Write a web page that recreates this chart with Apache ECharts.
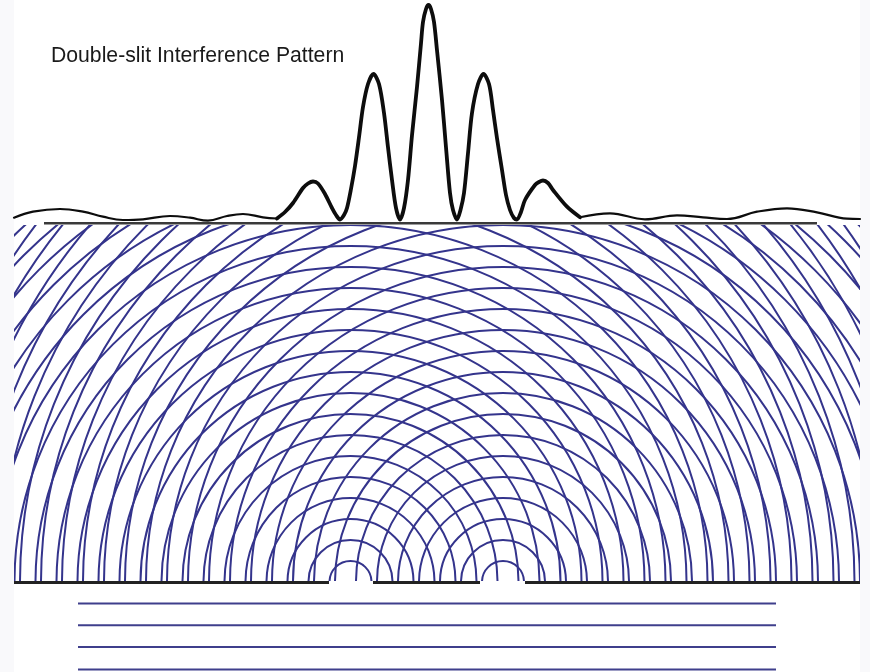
<!DOCTYPE html>
<html>
<head>
<meta charset="utf-8">
<style>html,body{margin:0;padding:0;background:#f9f9fb}#c{width:870px;height:672px}</style>
<script src="https://cdn.jsdelivr.net/npm/echarts@6/dist/echarts.min.js"></script>
</head>
<body>
<div id="c"></div>
<script>
// Positions along the screen are measured from the midpoint between the slits.
var titleText = 'Double-slit Interference Pattern';
var slitCentres = [-76.5, 76];
var waveRadii = [21,42,63,84,105,126,147,168,189,210,231,252,273,294,315,336,357,378,399,420,441,462,483,504,525,546,567,588,609,630];
var intensityTailLeft = [[-413,5.6],[-394,11.6],[-367,14.3],[-344,11.6],[-324,6.6],[-304,3.3],[-284,4],[-257,7.3],[-237,5.6],[-219,2.6],[-200,7.3],[-184,9.3],[-164,6],[-150,4.8]];
var intensityPeaks = [[-150,4.8],[-142,11.3],[-134,20.3],[-124,35.3],[-119,39.8],[-114,41.8],[-109,39.8],[-102,29.3],[-95,15.3],[-91,8.3],[-87,3.8],[-83,8.3],[-80,15.3],[-76,34.3],[-72,57.3],[-68,86],[-64,116.3],[-59,139.3],[-53.5,149.3],[-48,139.3],[-43,110.3],[-39,76],[-35,43.3],[-31,15.3],[-27,3.8],[-23,15.3],[-19,43.3],[-15,88],[-10,136.3],[-6,180],[-4,201.3],[-1,214.3],[1.5,218.3],[4,214.3],[7,201.3],[10,173],[15,123.3],[19,76],[23,30.3],[26,13.3],[30,3.8],[33.5,13.3],[37,30.3],[41,70],[45,110.3],[51,139.3],[56.5,149.3],[62,139.3],[66,113.3],[70,85],[75,53.3],[79,28.3],[83,13.3],[87,5.3],[90,3.8],[94,11.3],[98,23.3],[108,38.3],[112,41.3],[116,42.8],[121,40.3],[126,33.3],[140,16.6],[153,6]];
var intensityTailRight = [[153,6],[183,10],[218,4],[250,8],[276,6],[300,4.3],[330,11.6],[360,15],[390,11],[420,4.6],[433,4.3]];
var screenLine = [[-383,0],[390,0]];
var barrierLeft = [[-413,0],[-98,0]];
var barrierMiddle = [[-54,0],[53,0]];
var barrierRight = [[98,0],[433,0]];
var incomingLevels = [-21,-42.8,-64.5,-87];
var incomingExtent = [-349,349];

var chart = echarts.init(document.getElementById('c'), null, {renderer:'canvas'});

function xAxisFor(i){
  return {gridIndex:i,type:'value',min:-413,max:433,show:false,splitLine:{show:false}};
}
function hline(name, data, grid, color, width, clip){
  return {name:name,type:'line',xAxisIndex:grid,yAxisIndex:grid,data:data,showSymbol:false,silent:true,
    clip:clip!==false,lineStyle:{color:color,width:width,cap:'butt'},z:3};
}
function curve(name, data, width, smooth){
  return {name:name,type:'line',xAxisIndex:0,yAxisIndex:0,data:data,showSymbol:false,silent:true,smooth:smooth,clip:false,
    lineStyle:{color:'#0d0d0d',width:width,join:'round',cap:'round'},z:4};
}
function waves(slit, idx){
  return {
    name:'Wavefronts '+(idx+1),type:'custom',xAxisIndex:1,yAxisIndex:1,clip:true,silent:true,z:2,
    data:waveRadii.map(function(r){return [slit,r];}),
    encode:{x:0,y:1},
    renderItem:function(params,api){
      var c = api.coord([api.value(0),0]);
      var s = api.size([api.value(1),api.value(1)],[api.value(0),0]);
      return {type:'arc',shape:{cx:c[0],cy:c[1],r:s[0],startAngle:Math.PI,endAngle:2*Math.PI,clockwise:true},
        style:{fill:null,stroke:'#34348c',lineWidth:2}};
    }
  };
}

var series = [
  waves(slitCentres[0],0),
  waves(slitCentres[1],1),
  hline('Screen',screenLine,0,'#3a3a3a',2.4,false),
  curve('Tail left',intensityTailLeft,2.2,0.4),
  curve('Peaks',intensityPeaks,3.8,0.3),
  curve('Tail right',intensityTailRight,2.2,0.4),
  hline('Barrier',barrierLeft,2,'#222',3.2),
  hline('Barrier',barrierMiddle,2,'#222',3.2),
  hline('Barrier',barrierRight,2,'#222',3.2)
];
incomingLevels.forEach(function(v,i){
  series.push(hline('Incoming '+(i+1),[[incomingExtent[0],v],[incomingExtent[1],v]],2,'#3f3f8c',2));
});

chart.setOption({
  animation:false,
  backgroundColor:'#f9f9fb',
  title:{text:titleText,left:46,top:41,textStyle:{fontFamily:'Liberation Sans',fontSize:21.2,fontWeight:'normal',color:'#1a1a1a'}},
  tooltip:{show:false},
  legend:{show:false},
  grid:[
    {left:14,width:846,top:0,height:227,show:true,backgroundColor:'#fff',borderWidth:0},
    {left:14,width:846,top:225,height:356,show:true,backgroundColor:'#fff',borderWidth:0},
    {left:14,width:846,top:575,height:97,show:true,backgroundColor:'#fff',borderWidth:0}
  ],
  xAxis:[xAxisFor(0),xAxisFor(1),xAxisFor(2)],
  yAxis:[
    {gridIndex:0,type:'value',min:-3.7,max:223.3,show:false,splitLine:{show:false}},
    {gridIndex:1,type:'value',min:1,max:357,show:false,splitLine:{show:false}},
    {gridIndex:2,type:'value',min:-89.5,max:7.5,show:false,splitLine:{show:false}}
  ],
  series:series
});
</script>
</body>
</html>
